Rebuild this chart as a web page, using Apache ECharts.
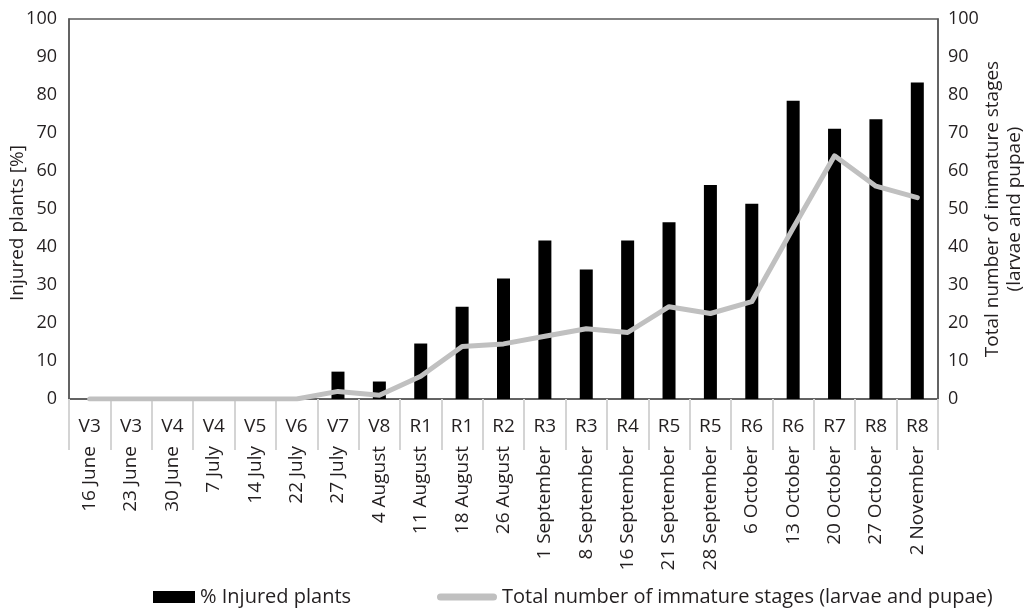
<!DOCTYPE html>
<html>
<head>
    <meta charset="utf-8">
    <title>Injured plants and immature stages</title>
    <script src="https://cdn.jsdelivr.net/npm/echarts@6/dist/echarts.min.js"></script>
    <style>
        html, body { margin: 0; padding: 0; background: #fff; }
        #main { width: 1024px; height: 610px; }
    </style>
</head>
<body>
<div id="main"></div>
<script type="text/javascript">
    // growth stage under each sampling date
    var stages = ['V3', 'V3', 'V4', 'V4', 'V5', 'V6', 'V7', 'V8', 'R1', 'R1', 'R2',
        'R3', 'R3', 'R4', 'R5', 'R5', 'R6', 'R6', 'R7', 'R8', 'R8'];
    var dates = ['16 June', '23 June', '30 June', '7 July', '14 July', '22 July', '27 July',
        '4 August', '11 August', '18 August', '26 August', '1 September', '8 September',
        '16 September', '21 September', '28 September', '6 October', '13 October',
        '20 October', '27 October', '2 November'];
    var injured = [0, 0, 0, 0, 0, 0, 7.2, 4.6, 14.6, 24.3, 31.7, 41.7, 34.1, 41.7, 46.5,
        56.3, 51.4, 78.5, 71.1, 73.6, 83.3];
    var immature = [0, 0, 0, 0, 0, 0, 2, 1, 6, 13.8, 14.5, 16.5, 18.5, 17.5, 24.3,
        22.5, 25.6, 45, 64, 56, 53];
    var yTicks = [0, 10, 20, 30, 40, 50, 60, 70, 80, 90, 100];

    var barName = '% Injured plants';
    var lineName = 'Total number of immature stages (larvae and pupae)';

    var font = "'Open Sans', sans-serif";
    var txt = '#231f20';
    var axisCol = '#595959';

    var myChart = echarts.init(document.getElementById('main'));

    var option = {
        animation: false,
        backgroundColor: '#fff',
        textStyle: { fontFamily: font, color: txt },
        grid: {
            left: 69, right: 86, top: 19, bottom: 211,
            outerBoundsMode: 'none',
            containLabel: false,
            show: true, borderColor: axisCol, borderWidth: 1.5, backgroundColor: 'transparent'
        },
        legend: [
            {
                data: [barName],
                left: 148, top: 582,
                icon: 'rect', itemWidth: 42, itemHeight: 12,
                textStyle: { fontFamily: font, fontSize: 20, color: txt }
            },
            {
                data: [lineName],
                left: 432, top: 582,
                icon: 'path://M3.5,0 H56.5 A3.5,3.5 0 0 1 56.5,7 H3.5 A3.5,3.5 0 0 1 3.5,0 Z',
                itemWidth: 60, itemHeight: 7,
                textStyle: { fontFamily: font, fontSize: 20, color: txt }
            }
        ],
        xAxis: [
            {
                type: 'category',
                data: stages,
                position: 'bottom',
                boundaryGap: true,
                axisLine: { show: true, lineStyle: { color: axisCol, width: 1.5 } },
                axisTick: { show: true, length: 51, interval: 0, lineStyle: { color: '#d4d4d4', width: 2 } },
                axisLabel: { interval: 0, margin: 18, fontFamily: font, fontSize: 19, color: txt },
                splitLine: { show: false }
            },
            {
                type: 'category',
                data: dates,
                position: 'bottom',
                boundaryGap: true,
                axisLine: { show: false },
                axisTick: { show: false },
                axisLabel: { interval: 0, rotate: 90, margin: 47, fontFamily: font, fontSize: 19, color: txt },
                splitLine: { show: false }
            }
        ],
        yAxis: [
            {
                type: 'value',
                min: yTicks[0], max: yTicks[yTicks.length - 1], interval: 10,
                name: 'Injured plants [%]',
                nameLocation: 'middle',
                nameGap: 42,
                nameMoveOverlap: false,
                nameTextStyle: { fontFamily: font, fontSize: 19, color: txt, padding: [0, 28, 0, 0] },
                axisLine: { show: true, lineStyle: { color: axisCol, width: 1.5 } },
                axisTick: { show: false },
                axisLabel: { margin: 12, fontFamily: font, fontSize: 18, color: txt, padding: [6, 0, 0, 0] },
                splitLine: { show: false }
            },
            {
                type: 'value',
                position: 'right',
                min: yTicks[0], max: yTicks[yTicks.length - 1], interval: 10,
                name: 'Total number of immature stages\n(larvae and pupae)',
                nameLocation: 'middle',
                nameGap: 44,
                nameMoveOverlap: false,
                nameTextStyle: { fontFamily: font, fontSize: 19, color: txt, lineHeight: 22 },
                axisLine: { show: true, lineStyle: { color: axisCol, width: 1.5 } },
                axisTick: { show: false },
                axisLabel: { margin: 10, fontFamily: font, fontSize: 18, color: txt, padding: [6, 0, 0, 0] },
                splitLine: { show: false }
            }
        ],
        series: [
            {
                name: barName,
                type: 'bar',
                xAxisIndex: 0,
                yAxisIndex: 0,
                barWidth: 13,
                itemStyle: { color: '#000' },
                data: injured
            },
            {
                name: lineName,
                type: 'line',
                xAxisIndex: 0,
                yAxisIndex: 1,
                symbol: 'none',
                showSymbol: false,
                itemStyle: { color: '#c0c0c0' },
                lineStyle: { color: '#c0c0c0', width: 5, cap: 'round', join: 'round' },
                data: immature
            }
        ]
    };

    option && myChart.setOption(option);
</script>
</body>
</html>
